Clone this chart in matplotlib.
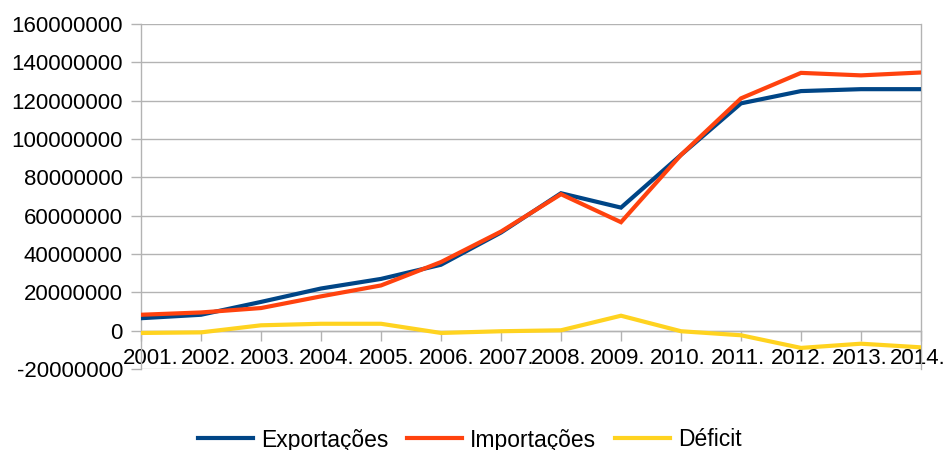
import matplotlib
matplotlib.use("Agg")
import matplotlib.pyplot as plt
import matplotlib.transforms as mtransforms
import numpy as np

years = ["2001.", "2002.", "2003.", "2004.", "2005.", "2006.", "2007.",
         "2008.", "2009.", "2010.", "2011.", "2012.", "2013.", "2014."]
exportacoes = [6.5e6, 8.3e6, 15.0e6, 22.0e6, 27.0e6, 34.4e6, 51.2e6,
               71.7e6, 64.2e6, 91.7e6, 118.6e6, 125.0e6, 126.0e6, 126.0e6]
importacoes = [8.3e6, 9.5e6, 11.8e6, 17.9e6, 23.6e6, 35.8e6, 51.7e6,
               71.2e6, 56.6e6, 91.7e6, 121.2e6, 134.5e6, 133.2e6, 134.7e6]
deficit = [-1.2e6, -0.9e6, 2.8e6, 3.6e6, 3.6e6, -1.2e6, -0.3e6,
           0.2e6, 7.8e6, -0.3e6, -2.4e6, -9.0e6, -6.8e6, -8.7e6]
y_ticks = [-20000000, 0, 20000000, 40000000, 60000000, 80000000,
           100000000, 120000000, 140000000, 160000000]
series_names = ["Exportações", "Importações", "Déficit"]
colors = ["#004586", "#ff420e", "#ffd320"]

plt.rcParams['font.family'] = ['Liberation Sans', 'DejaVu Sans']

W, H = 949, 450
fig = plt.figure(figsize=(W / 100, H / 100), dpi=100)
ax = fig.add_axes([141 / W, 1 - 369 / H, (921 - 141) / W, (369 - 24) / H])

x = np.arange(len(years))
for vals, name, c in zip([exportacoes, importacoes, deficit], series_names, colors):
    ax.plot(x, vals, color=c, lw=3, label=name, solid_joinstyle='miter', zorder=3)

ax.set_xlim(0, len(years) - 1)
ax.set_ylim(y_ticks[0], y_ticks[-1])
ax.set_yticks(y_ticks)
ax.set_yticklabels([str(v) for v in y_ticks])
ax.set_xticks(x)
ax.set_xticklabels(years)

grid_c = "#b3b3b3"
ax.grid(axis='y', color=grid_c, lw=1)
ax.set_axisbelow(True)
for s in ['left', 'right', 'top', 'bottom']:
    ax.spines[s].set_color(grid_c)
    ax.spines[s].set_linewidth(1)
ax.spines['bottom'].set_position(('data', 0))
ax.spines['top'].set_visible(False)

ax.tick_params(axis='y', length=7, color=grid_c, width=1, pad=6, labelsize=16)
ax.tick_params(axis='x', length=7, color=grid_c, width=1, pad=5.7, labelsize=16)

# small horizontal label shifts, as in the reference rendering (pixels)
label_shift_px = [10, 8, 7, 6, 6, 6, 6, -2, -3, -3, -3, -2, -1, -3]
for lab, dx in zip(ax.get_xticklabels(), label_shift_px):
    off = mtransforms.ScaledTranslation(dx / 100, 0, fig.dpi_scale_trans)
    lab.set_transform(lab.get_transform() + off)

fig.legend(loc='center', bbox_to_anchor=(470 / W, 1 - 440 / H), ncol=3,
           frameon=False, fontsize=16.5, handlelength=2.4, handletextpad=0.35,
           columnspacing=0.83, borderpad=0, borderaxespad=0)

fig.savefig("out.png", dpi=100)
